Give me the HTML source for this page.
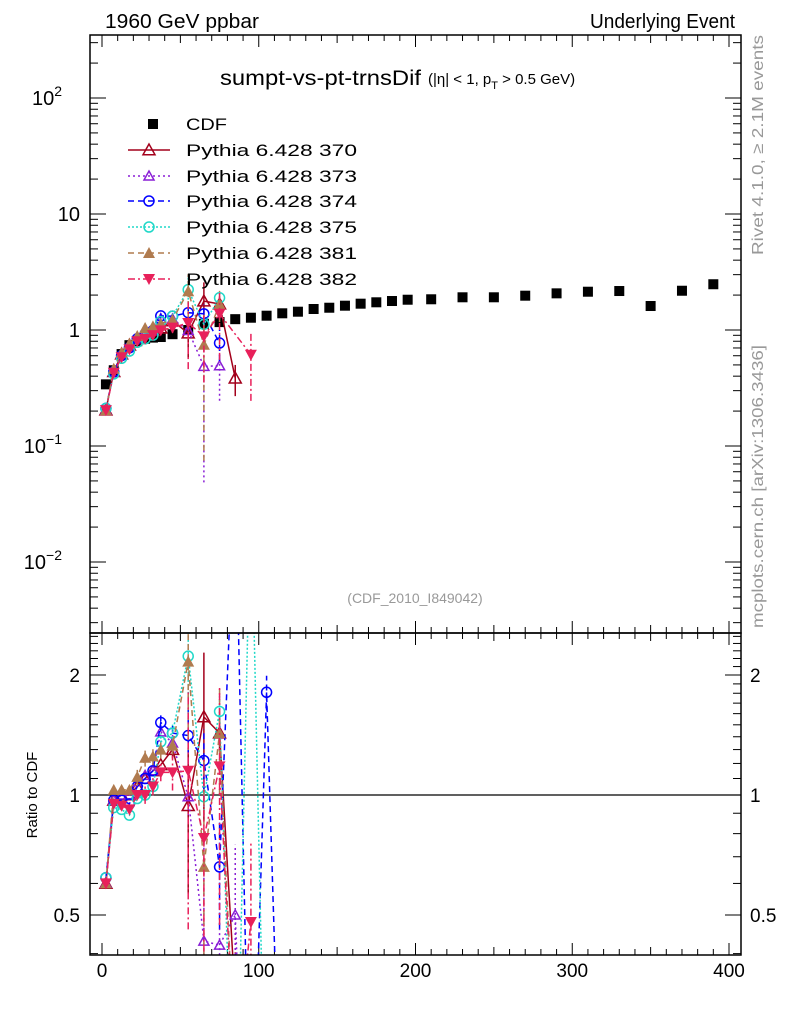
<!DOCTYPE html>
<html><head><meta charset="utf-8">
<style>
html,body{margin:0;padding:0;background:#fff;overflow:hidden;}
svg{display:block;font-family:"Liberation Sans",sans-serif;}
</style></head>
<body>
<svg id="chart" width="786" height="1024" viewBox="0 0 786 1024">
<defs>
<clipPath id="clipMain"><rect x="90" y="35" width="651" height="598"/></clipPath>
<clipPath id="clipRatio"><rect x="90" y="633" width="651" height="322"/></clipPath>
</defs>
<text x="105" y="28" font-size="20" textLength="154" lengthAdjust="spacingAndGlyphs">1960 GeV ppbar</text>
<text x="590" y="28" font-size="20" textLength="145" lengthAdjust="spacingAndGlyphs">Underlying Event</text>
<text x="220" y="85" font-size="21" textLength="201" lengthAdjust="spacingAndGlyphs">sumpt-vs-pt-trnsDif</text>
<text x="428" y="84" font-size="15">(|η| &lt; 1, p<tspan font-size="11" dy="5">T</tspan><tspan dy="-5"> &gt; 0.5 GeV)</tspan></text>
<text x="415" y="603" font-size="14" fill="#999" text-anchor="middle">(CDF_2010_I849042)</text>
<text transform="translate(763,255) rotate(-90)" font-size="16" fill="#999" textLength="220" lengthAdjust="spacingAndGlyphs">Rivet 4.1.0, ≥ 2.1M events</text>
<text transform="translate(763,628) rotate(-90)" font-size="16" fill="#999" textLength="283" lengthAdjust="spacingAndGlyphs">mcplots.cern.ch [arXiv:1306.3436]</text>
<text transform="translate(37,795) rotate(-90)" font-size="15" text-anchor="middle">Ratio to CDF</text>
<g id="axes"></g>
<g id="mainData" clip-path="url(#clipMain)"></g>
<g id="ratioData" clip-path="url(#clipRatio)"></g>
<g id="legend"></g>
<rect x="90" y="35" width="651" height="598" fill="none" stroke="#000" stroke-width="1.5"/>
<rect x="90" y="633" width="651" height="322" fill="none" stroke="#000" stroke-width="1.5"/>
</svg>
<script>
const cdfX = [2.5,7.5,12.5,17.5,22.5,27.5,32.5,37.5,45,55,65,75,85,95,105,115,125,135,145,155,165,175,185,195,210,230,250,270,290,310,330,350,370,390];
const cdfY = [0.34,0.45,0.62,0.74,0.8,0.84,0.86,0.87,0.92,1.0,1.13,1.17,1.24,1.276,1.328,1.393,1.438,1.517,1.556,1.62,1.686,1.733,1.778,1.824,1.84,1.914,1.914,1.976,2.07,2.138,2.168,1.61,2.18,2.48];
const mcX = [2.5,7.5,12.5,17.5,22.5,27.5,32.5,37.5,45,55,65,75,85,95,105,115];
const r370 = [0.6,0.97,1.0,1.0,1.05,1.1,1.15,1.19,1.3,0.94,1.57,1.43,0.31];
const r373 = [0.6,0.97,1.0,1.0,1.08,1.12,1.15,1.44,1.35,0.99,0.43,0.42,0.5,0.05];
const r374 = [0.62,0.97,0.97,0.95,1.05,1.1,1.15,1.52,1.43,1.41,1.22,0.66,6,0.1,1.81,0.1];
const r375 = [0.62,0.93,0.92,0.89,0.98,1.0,1.05,1.36,1.43,2.23,0.99,1.62,0.1,6,0.1];
const r381 = [0.6,1.03,1.03,1.03,1.11,1.24,1.25,1.3,1.33,2.16,0.66,1.43,0.2];
const r382 = [0.6,0.95,0.94,0.92,1.0,1.0,1.05,1.14,1.14,1.15,0.78,1.18,0.2,0.48];
const e370 = [0,0,0,0,0,0,0,0,0.05,0.4,0.45,0.1,0.3];
const e373 = [0,0,0,0,0,0,0,0,0.05,0.1,0.9,0.5,0.5];
const e374 = [0,0,0,0,0,0,0,0.05,0.05,0.2,0.2,0.3,0,0,0.1];
const e375 = [0,0,0,0,0,0,0,0.05,0.05,0.3,0.1,0.1];
const e381 = [0,0,0,0,0.05,0.05,0.05,0.05,0.05,0.4,0.9,0.3];
const e382 = [0,0,0,0,0,0.05,0.05,0.05,0.1,0.6,0.6,0.6,0,0.6];
// number of leading bins filled in the main (absolute) panel per series
const mainCount = {'370':13,'373':12,'374':12,'375':12,'381':12,'382':14};
const xTicks = [0,100,200,300,400];
const ratioTicks = [0.5,1,2];

const NS="http://www.w3.org/2000/svg";
function X(v){return 102+v*1.5675;}
function YM(v){return 330-116*Math.log10(v);}
function YR(v){return 795-398.6*Math.log10(v);}
function mk(tag,attrs,parent){const e=document.createElementNS(NS,tag);for(const k in attrs)e.setAttribute(k,attrs[k]);parent.appendChild(e);return e;}
const axes=document.getElementById('axes');
const mainG=document.getElementById('mainData');
const ratioG=document.getElementById('ratioData');
const legG=document.getElementById('legend');

for(let v=0;v<=400;v+=10){
  const major=v%100===0, mid=v%50===0;
  const len=major?12:(mid?8:6);
  const x=X(v);
  let t=mk('line',{x1:x,x2:x,y1:955,y2:955-len,stroke:'#000'},axes);
  
  t=mk('line',{x1:x,x2:x,y1:633,y2:633+len,stroke:'#000'},axes);
  
  t=mk('line',{x1:x,x2:x,y1:633,y2:633-len,stroke:'#000'},axes);
  
  t=mk('line',{x1:x,x2:x,y1:35,y2:35+len,stroke:'#000'},axes);
  
}
xTicks.forEach(v=>{
  const t=mk('text',{x:X(v),y:977,'font-size':19,'text-anchor':'middle'},axes);
  t.textContent=v;
  
  
});
for(let d=-3;d<=2;d++){
  for(let m=1;m<10;m++){
    const v=m*Math.pow(10,d);const y=YM(v);
    if(y<35||y>633)continue;
    const len=m===1?16:8;
    let t=mk('line',{x1:90,x2:90+len,y1:y,y2:y,stroke:'#000'},axes);
    
    t=mk('line',{x1:741,x2:741-len,y1:y,y2:y,stroke:'#000'},axes);
    
  }
}
const yLab=[[2,'10','2'],[1,'10',''],[0,'1',''],[-1,'10','−1'],[-2,'10','−2']];
yLab.forEach(([d,b,s])=>{
  const y=YM(Math.pow(10,d))+7;
  const t=mk('text',{x:s?62:80,y:y,'font-size':20,'text-anchor':'end'},axes);
  t.textContent=b;
  if(s){const ts=mk('tspan',{dy:-9,'font-size':14},t);ts.textContent=s;}
  
  
});
[0.4,0.5,0.6,0.7,0.8,0.9,1,1.1,1.2,1.3,1.4,1.5,1.6,1.7,1.8,1.9,2,2.1,2.2,2.3,2.4,2.5].forEach(v=>{
  const y=YR(v); if(y<633||y>955)return;
  const len=(Math.abs(v-0.5)<1e-6||Math.abs(v-1)<1e-6||Math.abs(v-2)<1e-6)?16:8;
  let t=mk('line',{x1:90,x2:90+len,y1:y,y2:y,stroke:'#000'},axes);
  
  t=mk('line',{x1:741,x2:741-len,y1:y,y2:y,stroke:'#000'},axes);
  
});
ratioTicks.forEach(v=>{
  let t=mk('text',{x:80,y:YR(v)+7,'font-size':19,'text-anchor':'end'},axes);
  t.textContent=v;
  
  
  t=mk('text',{x:750,y:YR(v)+7,'font-size':19},axes);
  t.textContent=v;
  
  
});
let ref=mk('line',{x1:90,x2:741,y1:YR(1),y2:YR(1),stroke:'#000','stroke-width':1.3},ratioG);



cdfX.forEach((x,i)=>{
  const r=mk('rect',{x:X(x)-5,y:YM(cdfY[i])-5,width:10,height:10,fill:'#000'},mainG);
  
  
});

function marker(g,type,color,cx,cy){
  let e;
  if(type==='tri'||type==='tri-s'){const h=type==='tri'?6:5;e=mk('polygon',{points:`${cx},${cy-h} ${cx-h},${cy+h*0.8} ${cx+h},${cy+h*0.8}`,fill:'none',stroke:color,'stroke-width':1.5},g);}
  else if(type==='circ'){e=mk('circle',{cx:cx,cy:cy,r:5,fill:'none',stroke:color,'stroke-width':1.5},g);}
  else if(type==='ftri'){e=mk('polygon',{points:`${cx},${cy-6} ${cx-6},${cy+5} ${cx+6},${cy+5}`,fill:color},g);}
  else {e=mk('polygon',{points:`${cx},${cy+6} ${cx-6},${cy-5} ${cx+6},${cy-5}`,fill:color},g);}
  return e;
}
const series=[
 {name:'370',r:r370,e:e370,color:'#a3001b',dash:'',m:'tri'},
 {name:'373',r:r373,e:e373,color:'#8a1fd6',dash:'2,3',m:'tri-s'},
 {name:'374',r:r374,e:e374,color:'#0000ff',dash:'6,4',m:'circ'},
 {name:'375',r:r375,e:e375,color:'#20d8c8',dash:'2,2',m:'circ'},
 {name:'381',r:r381,e:e381,color:'#b07b4f',dash:'6,4',m:'ftri'},
 {name:'382',r:r382,e:e382,color:'#e8205a',dash:'7,3,2,3',m:'dtri'}
];
series.forEach(s=>{
  const inMain=(rv,i)=>i<mainCount[s.name]&&rv>0.3&&rv<4;
  const mainPts=[],ratPts=[];
  s.r.forEach((rv,i)=>{
    const x=X(mcX[i]); const mv=rv*cdfY[i];
    if(inMain(rv,i)) mainPts.push(x+','+YM(mv));
    ratPts.push(x+','+YR(rv));
  });
  [[mainG,mainPts,'main'],[ratioG,ratPts,'ratio']].forEach(([g,pts,tag])=>{
    const pl=mk('polyline',{points:pts.join(' '),fill:'none',stroke:s.color,'stroke-width':1.5,'stroke-dasharray':s.dash},g);
    
    
  });
  s.r.forEach((rv,i)=>{
    const x=X(mcX[i]); const mv=rv*cdfY[i]; const f=s.e[i]||0;
    const showMain=inMain(rv,i);
    if(f>0){
      const lo=Math.max(rv*(1-f),1e-3),hi=rv*(1+f);
      let b;
      if(showMain){
        b=mk('line',{x1:x,x2:x,y1:YM(lo*cdfY[i]),y2:YM(hi*cdfY[i]),stroke:s.color,'stroke-width':1.5,'stroke-dasharray':s.dash},mainG);
        
        
      }
      b=mk('line',{x1:x,x2:x,y1:YR(lo),y2:YR(hi),stroke:s.color,'stroke-width':1.5,'stroke-dasharray':s.dash},ratioG);
      
      
    }
    let m;
    if(showMain){
      m=marker(mainG,s.m,s.color,x,YM(mv));
      
      
    }
    m=marker(ratioG,s.m,s.color,x,YR(rv));
    
    
  });
});
const legRows=[124,150,176,201,227,253,279];
let lr=mk('rect',{x:148,y:119,width:10,height:10,fill:'#000'},legG);


let lt=mk('text',{x:186,y:130,'font-size':17,textLength:41,lengthAdjust:'spacingAndGlyphs'},legG);
lt.textContent='CDF';


series.forEach((s,i)=>{
  const y=legRows[i+1];
  let l=mk('line',{x1:128,x2:170,y1:y,y2:y,stroke:s.color,'stroke-width':1.5,'stroke-dasharray':s.dash},legG);
  
  
  let m=marker(legG,s.m,s.color,149,y);
  
  
  let t=mk('text',{x:186,y:y+6,'font-size':17,textLength:171,lengthAdjust:'spacingAndGlyphs'},legG);
  t.textContent='Pythia 6.428 '+s.name;
  
  
});
</script>
</body></html>
